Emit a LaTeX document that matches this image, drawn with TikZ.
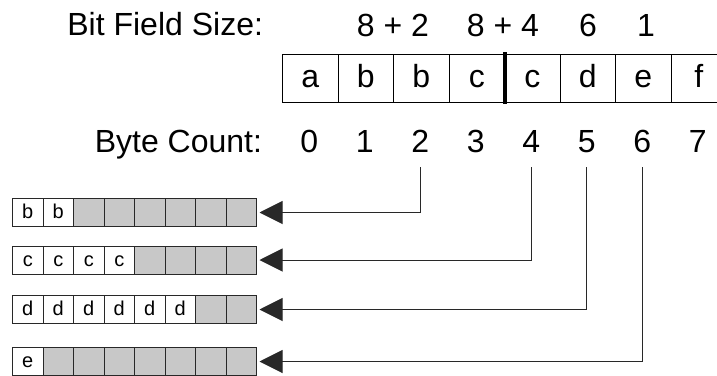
\documentclass[tikz,border=0pt]{standalone}
\usepackage{fontspec}
\setmainfont{Liberation Sans}
\usetikzlibrary{arrows.meta}
\definecolor{cellgray}{RGB}{200,200,200}
\definecolor{edge}{RGB}{40,40,40}

\begin{document}
\begin{tikzpicture}[x=1pt,y=-1pt,
  bigtext/.style={font=\fontsize{32}{36}\selectfont, inner sep=0pt, outer sep=0pt},
  fieldcell/.style={draw=black, line width=1pt, minimum width=55.5pt, minimum height=48pt,
    inner sep=0pt, font=\fontsize{32}{36}\selectfont, text height=18pt, text depth=0pt},
  bytecell/.style={draw=edge, line width=1pt, minimum width=30.5pt, minimum height=28pt,
    inner sep=0pt, font=\fontsize{20}{24}\selectfont, text height=12pt, text depth=0pt},
  used/.style={bytecell, fill=white},
  spare/.style={bytecell, fill=cellgray},
  link/.style={draw=edge, line width=1pt, -{Triangle[length=23pt,width=23pt]}}]
\useasboundingbox (0,0) rectangle (717,375);
\clip (0,0) rectangle (717,375);

% header labels
\node[bigtext, anchor=base east] (sizelbl) at (263,35) {Bit Field Size:};
\node[bigtext, anchor=base east] (countlbl) at (262,152) {Byte Count:};

% field sizes
\node[bigtext, anchor=base] (s1) at (393,36) {8 + 2};
\node[bigtext, anchor=base] (s2) at (503,36) {8 + 4};
\node[bigtext, anchor=base] (s3) at (588,36) {6};
\node[bigtext, anchor=base] (s4) at (646,36) {1};

% the packed byte row
\foreach \t [count=\i from 0] in {a,b,b,c,c,d,e,f}
  \node[fieldcell] (f\i) at ({282.5+55.5*(\i+0.5)},78) {\t};
\draw[line width=3.5pt] ([yshift=1.5pt]f3.north east) -- ([yshift=-1.5pt]f3.south east);

% byte indices
\foreach \i in {0,...,7}
  \node[bigtext, anchor=base] (n\i) at ({282.5+55.5*(\i+0.5)-1},152) {\i};

% unpacked fields, one byte-row per field
\foreach \r/\y/\n/\l in {1/212.5/2/b, 2/260/4/c, 3/309.5/6/d, 4/361.5/1/e} {
  \foreach \k in {1,...,8} {
    \ifnum\k>\n\relax
      \node[spare] (r\r-\k) at ({12.5+30.5*(\k-0.5)},\y) {};
    \else
      \node[used] (r\r-\k) at ({12.5+30.5*(\k-0.5)},\y) {\l};
    \fi
  }
}

% connectors from byte index to field row
\draw[link] ([yshift=-15pt]n2.south) |- ([xshift=2.5pt]r1-8.east);
\draw[link] ([yshift=-15pt]n4.south) |- ([xshift=2.5pt]r2-8.east);
\draw[link] ([yshift=-15pt]n5.south) |- ([xshift=2.5pt]r3-8.east);
\draw[link] ([yshift=-15pt]n6.south) |- ([xshift=2.5pt]r4-8.east);
\end{tikzpicture}
\end{document}
